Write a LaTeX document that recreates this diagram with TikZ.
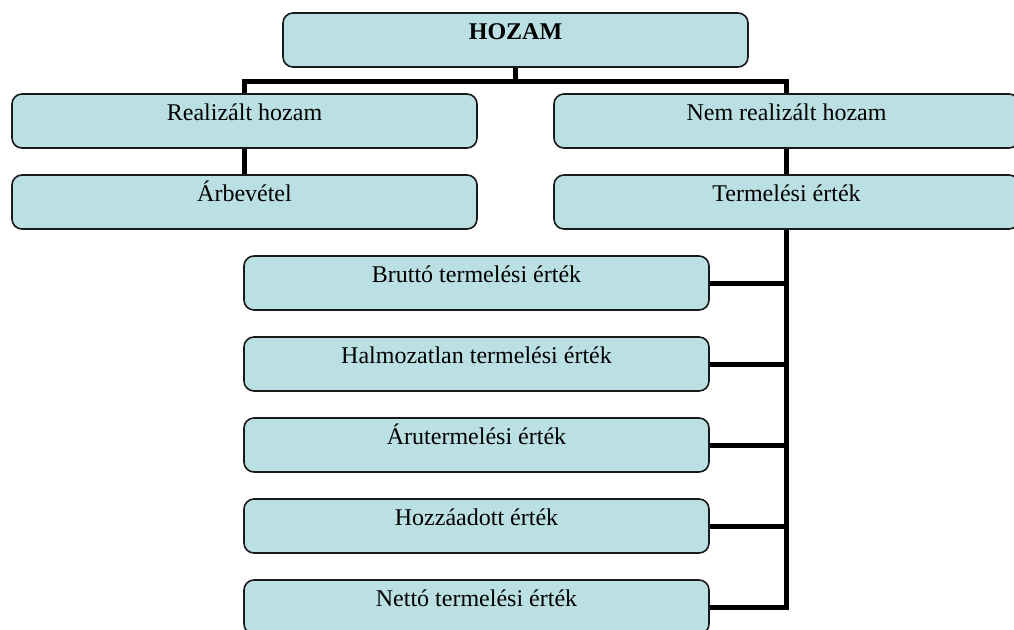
\documentclass[tikz,border=0pt]{standalone}
\usepackage{fontspec}
\setmainfont{Liberation Serif}

\definecolor{boxfill}{HTML}{BBE0E3}

\tikzset{
    orgbox/.style={draw=black!90, line width=1.2pt, fill=boxfill,
        rounded corners=7.5pt, minimum width=348.75pt, inner ysep=0pt,
        text height=19.9pt, text depth=20.6pt, align=center,
        font=\fontsize{18}{21.6}\selectfont},
    bus/.style={line width=3.75pt}
}

\begin{document}
\begin{tikzpicture}[x=0.75pt, y=-0.75pt]

\def\lw{1014}
\def\lh{629}

\useasboundingbox (0,0) rectangle (\lw,\lh);
\clip (0,0) rectangle (\lw,\lh);

% connectors first, boxes on top
\coordinate (hz) at (515.5,40);
\coordinate (rh) at (244.5,121);
\coordinate (nh) at (786.5,121);

\node[orgbox] (hozam) at (515.5,40) {\bfseries HOZAM};
\node[orgbox] (realhozam) at (244.5,121) {Realizált hozam};
\node[orgbox] (nemhozam) at (786.5,121) {Nem realizált hozam};
\node[orgbox] (arbevetel) at (244.5,202) {Árbevétel};
\node[orgbox] (termeles) at (786.5,202) {Termelési érték};

\foreach \name/\txt [count=\i] in {brutto/Bruttó termelési érték,
        halmozatlan/Halmozatlan termelési érték,
        aru/Árutermelési érték,
        hozzaadott/Hozzáadott érték,
        netto/Nettó termelési érték} {
    \node[orgbox] (\name) at (476.5,{40+81*(\i+2)}) {\txt};
    \draw[bus] (termeles.south) |- (\name.east);
}

\draw[bus] (hozam.south) -- ++(0,14) -| (realhozam.north);
\draw[bus] (hozam.south) -- ++(0,14) -| (nemhozam.north);
\draw[bus] (realhozam.south) -- (arbevetel.north);
\draw[bus] (nemhozam.south) -- (termeles.north);

\end{tikzpicture}
\end{document}
